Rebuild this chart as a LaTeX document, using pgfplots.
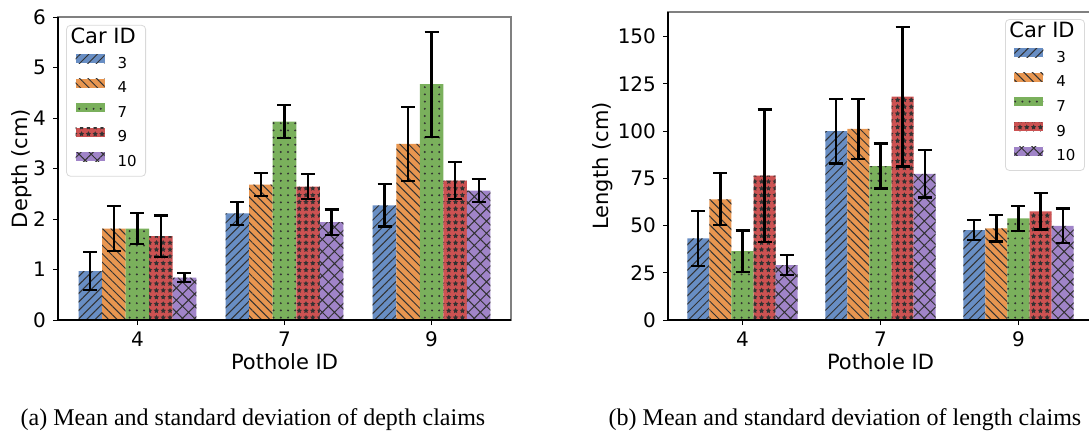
\documentclass[border=0pt]{standalone}
\usepackage{fontspec}
\setmainfont{Liberation Serif}
\newfontfamily\chartfont{DejaVu Sans}
\usepackage{pgfplots}
\usepackage{pgfplotstable}
\pgfplotsset{compat=1.18}
\usetikzlibrary{patterns.meta}

\definecolor{c3}{RGB}{104,142,196}
\definecolor{c4}{RGB}{232,150,80}
\definecolor{c7}{RGB}{122,176,92}
\definecolor{c9}{RGB}{204,82,82}
\definecolor{c10}{RGB}{160,132,200}
\definecolor{hatch}{RGB}{50,50,50}

% depth (cm): mean and std per car, pothole 4 / 7 / 9
\pgfplotstableread{
x m3   e3   m4   e4   m7   e7   m9   e9   m10  e10
0 0.97 0.37 1.81 0.45 1.81 0.31 1.66 0.41 0.84 0.09
1 2.11 0.23 2.68 0.23 3.93 0.33 2.64 0.25 1.94 0.25
2 2.27 0.42 3.49 0.73 4.67 1.04 2.76 0.37 2.56 0.23
}\depth

% length (cm)
\pgfplotstableread{
x m3    e3   m4    e4   m7   e7   m9    e9   m10  e10
0 43.2  14.5 63.9  13.8 36.5 10.9 76.4  35.0 29.1 5.1
1 99.9  17.1 101.1 15.8 81.5 11.9 118.2 37.0 77.3 12.5
2 47.6  5.2  48.5  6.9  53.8 6.5  57.5  9.6  49.8 9.2
}\length

\pgfplotsset{
  s3/.style={fill=c3, draw=none, bar shift=-0.32,
    postaction={pattern={Lines[angle=45,distance=3pt,line width=0.5pt]}, pattern color=hatch}},
  s4/.style={fill=c4, draw=none, bar shift=-0.16,
    postaction={pattern={Lines[angle=-45,distance=3pt,line width=0.5pt]}, pattern color=hatch}},
  s7/.style={fill=c7, draw=none, bar shift=0,
    postaction={pattern={Dots[distance=3.6pt,radius=0.55pt]}, pattern color=hatch}},
  s9/.style={fill=c9, draw=none, bar shift=0.16,
    postaction={pattern={Stars[distance=3.4pt,radius=1.4pt,points=5]}, pattern color=hatch}},
  s10/.style={fill=c10, draw=none, bar shift=0.32,
    postaction={pattern={Hatch[angle=45,distance=4.3pt,line width=0.5pt]}, pattern color=hatch}},
  claims/.style={
    scale only axis, ybar, bar width=0.16,
    xmin=-0.54, xmax=2.54, ymin=0, enlargelimits=false, clip=false,
    xtick={0,1,2}, xticklabels={4,7,9},
    tick pos=left, tick align=outside, major tick length=2.5pt,
    tick style={black, line width=0.5pt},
    axis line style={gray, line width=0.6pt},
    /pgf/number format/assume math mode=true,
    every tick label/.append style={font=\chartfont\fontsize{10}{12}\selectfont},
    every axis x label/.style={at={(axis description cs:0.5,0)}, anchor=center, yshift=-21pt,
      font=\chartfont\fontsize{10.5}{12}\selectfont},
    error bars/y dir=both, error bars/y explicit,
    error bars/error bar style={black, line width=1.1pt},
    error bars/error mark options={black, line width=1.1pt, mark size=3.5pt, rotate=90},
    legend image code/.code={\path[##1, sharp corners] (0pt,0.4pt) rectangle (14.5pt,4.9pt);},
    legend cell align=left,
    legend style={draw=black!15, rounded corners=2pt, fill=white,
      font=\chartfont\fontsize{7.5}{9}\selectfont,
      inner xsep=4.5pt, inner ysep=3.5pt, row sep=3.9pt, column sep=6.5pt,
      nodes={inner sep=0pt, text height=5.6pt, text depth=1.4pt}},
  },
}

\begin{document}
\begin{tikzpicture}
\useasboundingbox (0,0) rectangle (544.5pt,-220pt);

\begin{axis}[claims,
  at={(29pt,-160pt)}, anchor=south west,
  width=226.5pt, height=151.5pt,
  ymax=6, ytick={0,1,2,3,4,5,6},
  xlabel={Pothole ID}, ylabel={Depth (cm)},
  every axis y label/.style={at={(axis description cs:0,0.5)}, xshift=-18pt, rotate=90, anchor=center,
    font=\chartfont\fontsize{10.5}{12}\selectfont},
  legend style={at={(0.018,0.974)}, anchor=north west},
]
  \addlegendimage{empty legend}
  \addlegendentry{\hspace*{-23.5pt}\fontsize{10.5}{12}\selectfont Car ID}
  \addplot[s3]  table[x=x, y=m3,  y error=e3]  {\depth}; \addlegendentry{3}
  \addplot[s4]  table[x=x, y=m4,  y error=e4]  {\depth}; \addlegendentry{4}
  \addplot[s7]  table[x=x, y=m7,  y error=e7]  {\depth}; \addlegendentry{7}
  \addplot[s9]  table[x=x, y=m9,  y error=e9]  {\depth}; \addlegendentry{9}
  \addplot[s10] table[x=x, y=m10, y error=e10] {\depth}; \addlegendentry{10}
  \draw[black, line width=0.6pt] (rel axis cs:0,1) -- (rel axis cs:0,0) -- (rel axis cs:1,0);
\end{axis}

\begin{axis}[claims,
  at={(334pt,-160pt)}, anchor=south west,
  width=212.5pt, height=154pt,
  ymax=163, ytick={0,25,50,75,100,125,150},
  xlabel={Pothole ID}, ylabel={Length (cm)},
  every axis y label/.style={at={(axis description cs:0,0.5)}, xshift=-32.5pt, rotate=90, anchor=center,
    font=\chartfont\fontsize{10.5}{12}\selectfont},
  legend style={at={(0.981,0.977)}, anchor=north east},
]
  \addlegendimage{empty legend}
  \addlegendentry{\hspace*{-23.5pt}\fontsize{10.5}{12}\selectfont Car ID}
  \addplot[s3]  table[x=x, y=m3,  y error=e3]  {\length}; \addlegendentry{3}
  \addplot[s4]  table[x=x, y=m4,  y error=e4]  {\length}; \addlegendentry{4}
  \addplot[s7]  table[x=x, y=m7,  y error=e7]  {\length}; \addlegendentry{7}
  \addplot[s9]  table[x=x, y=m9,  y error=e9]  {\length}; \addlegendentry{9}
  \addplot[s10] table[x=x, y=m10, y error=e10] {\length}; \addlegendentry{10}
  \draw[black, line width=0.6pt] (rel axis cs:0,1) -- (rel axis cs:0,0) -- (rel axis cs:1,0);
\end{axis}

\node[font=\fontsize{12}{14}\selectfont] at (126.5pt,-210pt) {(a) Mean and standard deviation of depth claims};
\node[font=\fontsize{12}{14}\selectfont] at (422.5pt,-210pt) {(b) Mean and standard deviation of length claims};
\end{tikzpicture}
\end{document}
